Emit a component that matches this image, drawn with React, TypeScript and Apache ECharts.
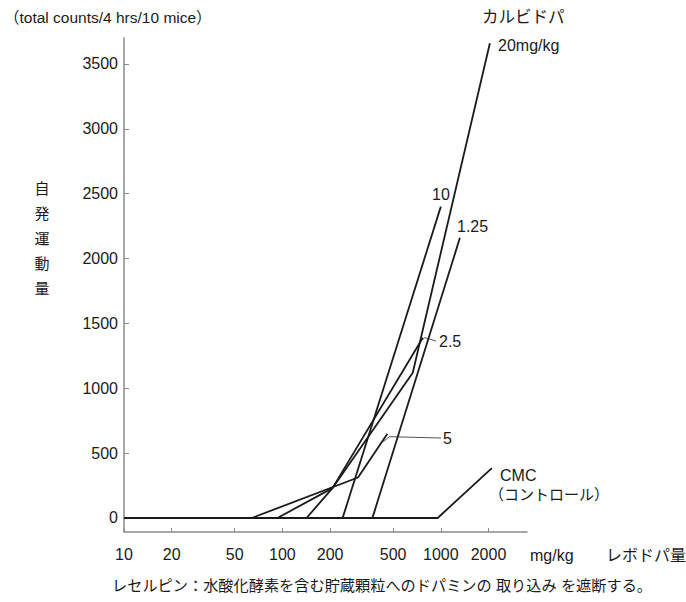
import { useEffect, useRef } from "react";
import * as echarts from "echarts";

// Levodopa dose (mg/kg, log scale) and spontaneous activity (counts)
const doseTicks = [10, 20, 50, 100, 200, 500, 1000, 2000];
const countTicks = [0, 500, 1000, 1500, 2000, 2500, 3000, 3500];
const DOSE_MIN = 10;
const DOSE_MAX = 3500;
const COUNT_MIN = -108; // leaves a small gap between the zero line and the dose axis
const COUNT_MAX = 3700;

const cmc = [[10, 0], [955, 0], [2100, 385]];
const carbidopa1_25 = [[370, 0], [1320, 2160]];
const carbidopa2_5 = [[93, 0], [207, 230], [770, 1390]];
const carbidopa5 = [[64, 0], [300, 312], [460, 650]];
const carbidopa10 = [[240, 0], [1000, 2400]];
const carbidopa20 = [[142, 0], [207, 230], [665, 1120], [2040, 3660]];

const NUM_FONT = "'Liberation Sans', Arial, Helvetica, sans-serif";
const JP_FONT = "'Liberation Sans', 'Noto Sans CJK JP', sans-serif";
const INK = "#1a1a1a";
const AXIS = "#8a8a8a";

const W = 686;
const H = 602;

export default function App() {
  const ref = useRef<HTMLDivElement>(null);

  useEffect(() => {
    if (!ref.current) return;
    const chart = echarts.init(ref.current, undefined, { renderer: "svg" });

    const line = (name: string, data: number[][]) => ({
      name,
      type: "line",
      data,
      showSymbol: false,
      symbol: "none",
      silent: true,
      clip: false,
      lineStyle: { color: INK, width: 1.8 },
    });

    const plain = (v: number) => String(Math.round(v));

    chart.setOption({
      animation: false,
      backgroundColor: "#ffffff",
      grid: { left: 124, right: 159, top: 38, bottom: 70 },
      xAxis: {
        type: "log",
        logBase: 10,
        min: DOSE_MIN,
        max: DOSE_MAX,
        axisLine: { show: true, onZero: false, lineStyle: { color: AXIS, width: 1.5 } },
        axisTick: { show: true, inside: true, length: 4, customValues: doseTicks, lineStyle: { color: AXIS } },
        axisLabel: {
          customValues: doseTicks,
          formatter: plain,
          margin: 14,
          fontSize: 16,
          fontFamily: NUM_FONT,
          color: INK,
        },
        minorTick: { show: false },
        splitLine: { show: false },
      },
      yAxis: {
        type: "value",
        min: COUNT_MIN,
        max: COUNT_MAX,
        axisLine: { show: true, onZero: false, lineStyle: { color: AXIS, width: 1.5 } },
        axisTick: { show: true, inside: true, length: 5, customValues: countTicks, lineStyle: { color: AXIS } },
        axisLabel: {
          customValues: countTicks,
          formatter: plain,
          margin: 6,
          fontSize: 16,
          fontFamily: NUM_FONT,
          color: INK,
        },
        splitLine: { show: false },
      },
      series: [
        line("CMC", cmc),
        line("1.25", carbidopa1_25),
        line("2.5", carbidopa2_5),
        line("5", carbidopa5),
        line("10", carbidopa10),
        line("20", carbidopa20),
      ],
    });

    const px = (p: number[]) => chart.convertToPixel({ gridIndex: 0 }, p) as number[];
    const end25 = px(carbidopa2_5[carbidopa2_5.length - 1]);
    const end5 = px(carbidopa5[carbidopa5.length - 1]);

    const txt = (text: string, x: number, y: number, size: number, font = NUM_FONT, extra: any = {}) => ({
      type: "text",
      x,
      y,
      silent: true,
      style: { text, fontSize: size, fontFamily: font, fill: INK, verticalAlign: "middle", ...extra },
    });

    chart.setOption({
      graphic: {
        elements: [
          txt("（total counts/4 hrs/10 mice）", 4, 17, 15.5, JP_FONT),
          txt("自\n発\n運\n動\n量", 42, 238, 15, JP_FONT, { align: "center", lineHeight: 25 }),
          txt("カルビドパ", 482, 17, 16.5, JP_FONT),
          txt("20mg/kg", 498, 45, 16),
          txt("10", 432, 194, 16),
          txt("1.25", 457, 226, 16),
          txt("2.5", 439, 341, 16),
          txt("5", 443, 438, 16),
          txt("CMC", 500, 475, 16),
          txt("（コントロール）", 489, 494, 15, JP_FONT),
          txt("mg/kg", 530, 555, 16),
          txt("レボドパ量", 606, 555, 16, JP_FONT),
          txt("レセルピン：水酸化酵素を含む貯蔵顆粒へのドパミンの 取り込み を遮断する。", 112, 585, 15.2, JP_FONT),
          {
            type: "polyline",
            silent: true,
            shape: { points: [[end25[0] - 2, end25[1] + 3], [end25[0] + 2, end25[1]], [436, 341]] },
            style: { stroke: "#555", lineWidth: 1, fill: "none" },
          },
          {
            type: "polyline",
            silent: true,
            shape: { points: [[end5[0] - 4, end5[1] + 8], [end5[0] + 2, end5[1] + 3], [441, 438]] },
            style: { stroke: "#555", lineWidth: 1, fill: "none" },
          },
        ],
      },
    });

    return () => chart.dispose();
  }, []);

  return (
    <div
      ref={ref}
      style={{ position: "fixed", left: 0, top: 0, width: W, height: H, background: "#fff" }}
    />
  );
}
